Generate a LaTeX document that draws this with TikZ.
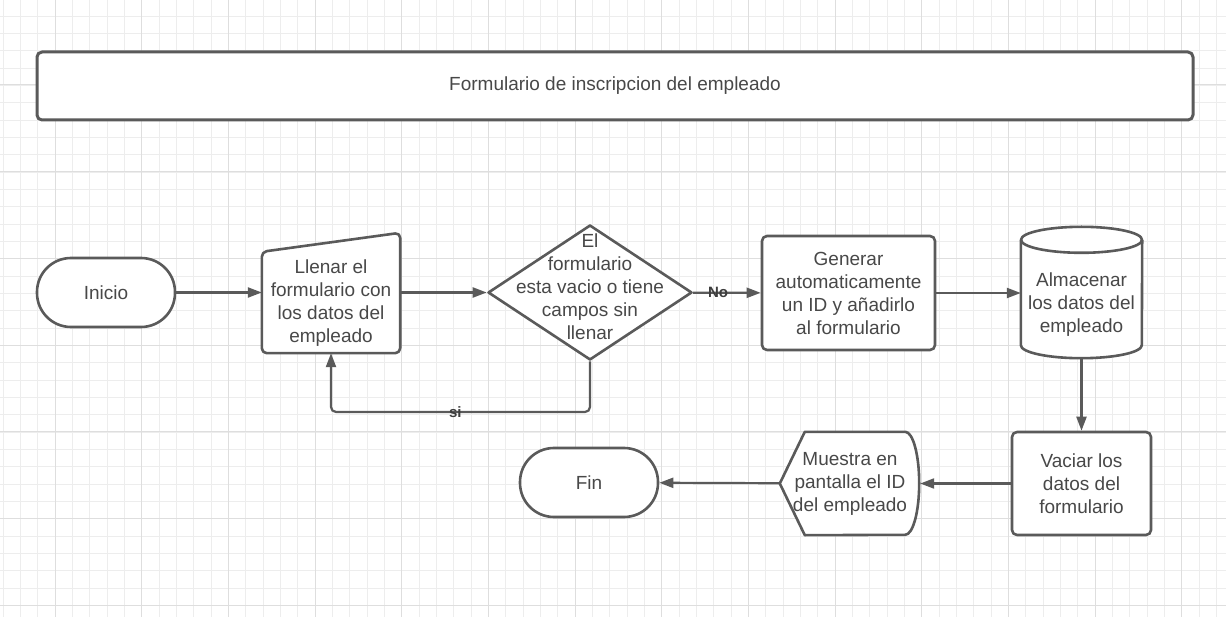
\documentclass[tikz,border=0pt]{standalone}
\usepackage{fontspec}
\setmainfont{Liberation Sans}
\usetikzlibrary{arrows.meta,shapes.geometric,positioning}

\definecolor{linegray}{RGB}{90,90,90}
\definecolor{textgray}{RGB}{72,72,72}
\definecolor{gridminor}{RGB}{237,237,237}
\definecolor{gridmajor}{RGB}{222,222,222}

\pgfdeclarelayer{grid}
\pgfdeclarelayer{shapes}
\pgfsetlayers{grid,shapes,main}

\tikzset{
  shapetext/.style = {text=textgray, align=center, font=\fontsize{19}{23}\selectfont},
  outline/.style   = {draw=linegray, line width=2.6pt, fill=white, line join=round},
  process/.style   = {shapetext, outline, rounded corners=5pt},
  terminal/.style  = {shapetext, outline, rounded corners=34pt, minimum width=138pt, minimum height=69pt},
  decision/.style  = {outline, diamond, minimum width=204pt, minimum height=135pt, inner sep=0pt},
  frame/.style     = {shapetext, inner sep=0pt},
  flow/.style      = {draw=linegray, line width=2.2pt, rounded corners=5pt,
                      -{Triangle[length=14pt,width=10pt]}},
  answer/.style    = {text=textgray!85!black, font=\fontsize{15}{15}\selectfont\bfseries, inner sep=0pt},
  minorgrid/.style = {draw=gridminor, line width=0.8pt},
  majorgrid/.style = {draw=gridmajor, line width=1pt},
}

\begin{document}
\begin{tikzpicture}[x=1pt, y=-1pt]
  \useasboundingbox (0,0) rectangle (1226,617);

  \begin{pgfonlayer}{grid}
    \fill[white] (0,0) rectangle (1226,617);
    \foreach \i in {0,...,70}
      \draw[minorgrid] ({3+17.333*\i},0) -- ({3+17.333*\i},617);
    \foreach \j in {0,...,35}
      \draw[minorgrid] (0,{16+17.333*\j}) -- (1226,{16+17.333*\j});
    \foreach \i in {0,...,13}
      \draw[majorgrid] ({55+86.667*\i},0) -- ({55+86.667*\i},617);
    \foreach \j in {0,...,6}
      \draw[majorgrid] (0,{85+86.667*\j}) -- (1226,{85+86.667*\j});
  \end{pgfonlayer}

  \node[process, line width=3pt, minimum width=1156pt, minimum height=68pt] (title) at (615,86)
    {Formulario de inscripcion del empleado};

  \node[terminal] (start)  at (106,292.5) {Inicio};
  \node[frame, minimum width=138pt, minimum height=100pt] (fill) at (331,303)
    {Llenar el\\formulario con\\los datos del\\empleado};
  \node[decision] (check) at (590,292.5) {};
  \node[shapetext] (question) at (590,287)
    {El\\formulario\\esta vacio o tiene\\campos sin\\llenar};
  \node[process, minimum width=173pt, minimum height=114pt] (gen) at (848.5,293)
    {Generar\\automaticamente\\un ID y añadirlo\\al formulario};
  \node[frame, minimum width=121pt, minimum height=106pt] (store) at (1081.5,305)
    {Almacenar\\los datos del\\empleado};
  \node[process, minimum width=139pt, minimum height=103pt] (empty) at (1081.5,483.5)
    {Vaciar los\\datos del\\formulario};
  \node[frame, minimum width=140pt, minimum height=103pt] (show) at (850,483.5)
    {Muestra en\\pantalla el ID\\del empleado};
  \node[terminal] (finish) at (589,482.5) {Fin};

  \coordinate (back) at (590,412);

  % outlines of the shapes with no TikZ shape
  \begin{pgfonlayer}{shapes}
    \draw[outline, rounded corners=5pt] (fill.south west) -- ([yshift=1pt]fill.north west)
      -- ([yshift=20pt]fill.north east) -- (fill.south east) -- cycle;
    \draw[outline] ([yshift=12pt]store.north west) -- ([yshift=13pt]store.south west)
      arc[start angle=180, end angle=360, x radius=60.5pt, y radius=13pt]
      -- ([yshift=12pt]store.north east);
    \draw[outline] ([yshift=12pt]store.north) ellipse[x radius=60.5pt, y radius=13pt];
    \draw[outline] (show.west) -- ([xshift=25pt]show.north west)
      -- ([xshift=-15pt]show.north east)
      arc[start angle=90, end angle=-90, x radius=14pt, y radius=51.5pt]
      -- ([xshift=25pt]show.south west) -- cycle;
  \end{pgfonlayer}

  \draw[flow] (start) -- (start -| fill.west);
  \draw[flow] (fill.east |- check) -- (check);
  \draw[flow] (check) -- node[answer, pos=0.37] {No} (gen);
  \draw[flow] (gen) -- (gen -| store.west);
  \draw[flow] (store) -- (empty);
  \draw[flow] (empty) -- (empty -| show.east);
  \draw[flow] (show) -- (finish);
  \draw[flow] (check.south) -- (back) -| node[answer, pos=0.26] {si} (fill.south);

\end{tikzpicture}
\end{document}
